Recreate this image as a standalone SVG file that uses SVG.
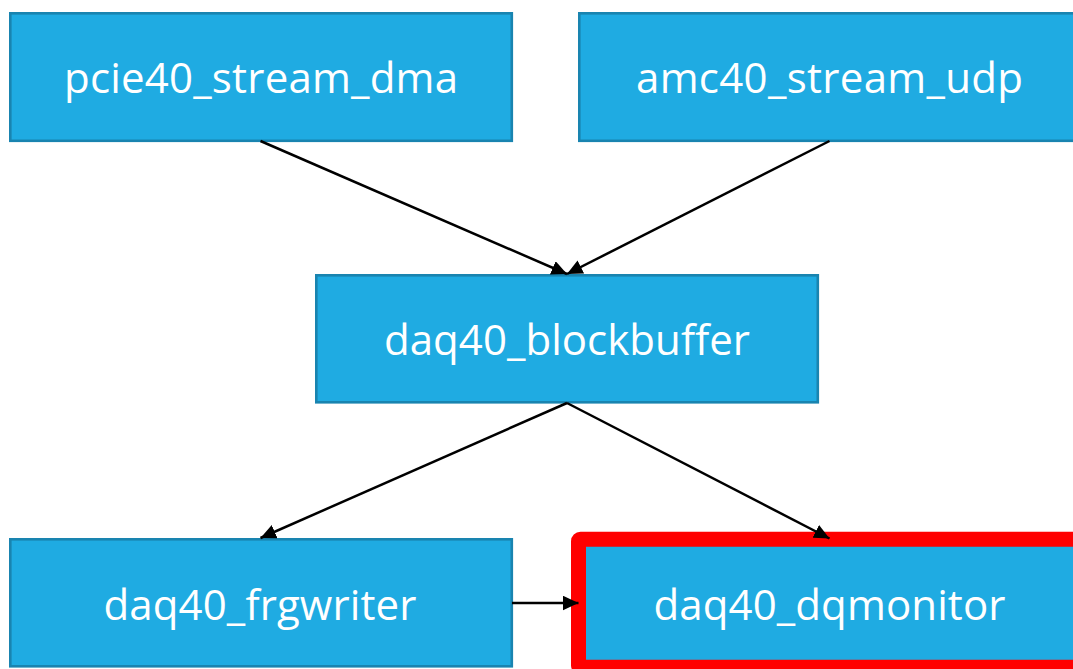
<svg xmlns="http://www.w3.org/2000/svg" width="1073" height="669" viewBox="0 0 1073 669">
  <style>
    .box { fill: #1fabe2; stroke: #1984b0; stroke-width: 2.6; }
    .label { fill: #ffffff; font-family: "Open Sans", "Noto Sans", "Liberation Sans", sans-serif; font-size: 42px; text-anchor: middle; }
    .edge { stroke: #000000; stroke-width: 2.5; fill: none; marker-end: url(#arrow); }
    .highlight { fill: none; stroke: #ff0000; stroke-width: 15; stroke-linejoin: round; }
  </style>
  <defs>
    <marker id="arrow" markerUnits="userSpaceOnUse" markerWidth="16" markerHeight="15" refX="15.5" refY="7.25" orient="auto">
      <path d="M0,0 L15.5,7.25 L0,14.5 Z" fill="#000000"/>
    </marker>
  </defs>
  <rect width="1073" height="669" fill="#ffffff"/>

  <g id="pcie40_stream_dma">
    <rect class="box" x="10.3" y="13.3" width="501.5" height="127.5"/>
    <text class="label" x="261" y="93" textLength="394" lengthAdjust="spacing">pcie40_stream_dma</text>
  </g>

  <g id="amc40_stream_udp">
    <rect class="box" x="579.3" y="13.3" width="502" height="127.5"/>
    <text class="label" x="829.5" y="93" textLength="387" lengthAdjust="spacing">amc40_stream_udp</text>
  </g>

  <g id="daq40_blockbuffer">
    <rect class="box" x="316.3" y="275.3" width="501.5" height="127"/>
    <text class="label" x="567" y="355" textLength="366" lengthAdjust="spacing">daq40_blockbuffer</text>
  </g>

  <g id="daq40_frgwriter">
    <rect class="box" x="10.3" y="539.3" width="501.5" height="127"/>
    <text class="label" x="260" y="619.5" textLength="313" lengthAdjust="spacing">daq40_frgwriter</text>
  </g>

  <g id="daq40_dqmonitor">
    <rect class="box" x="579.3" y="539.3" width="502" height="127"/>
    <rect class="highlight" x="578.5" y="539.2" width="502" height="128" rx="2"/>
    <text class="label" x="829.5" y="619.5" textLength="352" lengthAdjust="spacing">daq40_dqmonitor</text>
  </g>

  <g id="connectors">
    <line class="edge" x1="260.5" y1="141" x2="567" y2="274"/>
    <line class="edge" x1="829.5" y1="141" x2="567" y2="274"/>
    <line class="edge" x1="567" y1="403" x2="260.5" y2="538"/>
    <line class="edge" x1="567" y1="403" x2="829.5" y2="538.5"/>
    <line class="edge" x1="512" y1="603" x2="578.5" y2="603"/>
  </g>
</svg>
